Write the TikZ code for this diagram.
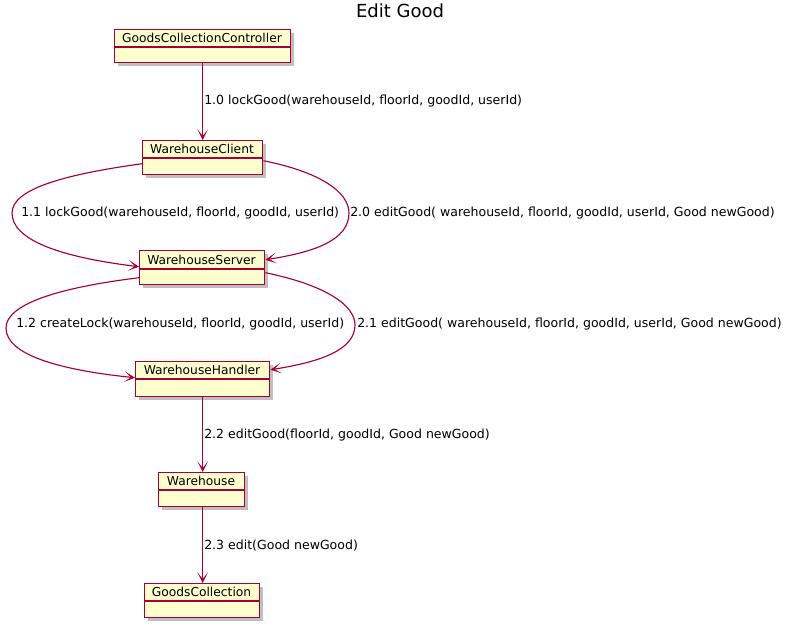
\documentclass[tikz,border=0pt]{standalone}
\usepackage{fontspec}
\setmainfont{DejaVu Sans}
\usetikzlibrary{arrows.meta,shadows}
\definecolor{umlred}{HTML}{A80036}
\definecolor{umlfill}{HTML}{FEFECE}
\tikzset{
  clsshape/.style={draw=umlred, fill=umlfill, line width=1.1pt, inner sep=0pt,
    drop shadow={shadow xshift=2.5pt, shadow yshift=-2.5pt, fill=black, opacity=0.25}},
  clsline/.style={draw=umlred, line width=1.1pt},
  clstext/.style={font=\fontsize{9.2pt}{11pt}\selectfont, inner sep=0pt},
  conn/.style={draw=umlred, line width=0.85pt, -{Stealth[length=8pt,width=8pt,inset=5pt]}},
  lbl/.style={font=\fontsize{9.4pt}{11pt}\selectfont, anchor=west, inner sep=0pt},
}
% name, left, top, right, bottom, divider y, text
\newcommand\clsbox[7]{%
  \node[clsshape, minimum width={(#4-#2)*0.75pt}, minimum height={(#5-#3)*0.75pt}, anchor=north west] (#1) at (#2,#3) {};
  \draw[clsline] (#2,#6) -- (#4,#6);
  \node[clstext] (#1-t) at ({(#2+#4)/2},{(#3+#6)/2}) {#7};
}
\begin{document}
\begin{tikzpicture}[x=0.75pt, y=-0.75pt]
\useasboundingbox (0,0) rectangle (793,627);
\node[font=\fontsize{13.5pt}{16pt}\selectfont, inner sep=0pt] (title) at (400,11) {Edit Good};

\clsbox{gcc}{114}{29}{290}{62}{47}{GoodsCollectionController}
\clsbox{wc}{142}{140}{262}{174}{158}{WarehouseClient}
\clsbox{ws}{139}{250}{264}{284}{269}{WarehouseServer}
\clsbox{wh}{135}{361}{269}{396}{379}{WarehouseHandler}
\clsbox{w}{158}{472}{244}{506}{490}{Warehouse}
\clsbox{gc}{144}{583}{259}{617}{601}{GoodsCollection}

% straight connectors
\draw[conn] (gcc.south) -- (gcc.south |- wc.north);
\node[lbl] (l10) at (204,101) {1.0 lockGood(warehouseId, floorId, goodId, userId)};
\draw[conn] (wh.south) -- (wh.south |- w.north);
\node[lbl] (l22) at (204,435) {2.2 editGood(floorId, goodId, Good newGood)};
\draw[conn] (wh.south |- w.south) -- (wh.south |- gc.north);
\node[lbl] (l23) at (204,546) {2.3 edit(Good newGood)};

% curved connectors
\coordinate (wcL) at ([yshift=-0.75*6pt]wc.west);
\coordinate (wcR) at ([yshift=-0.75*3pt]wc.east);
\coordinate (wsLin) at ([yshift=0.75*1pt]ws.west);
\coordinate (wsRin) at ([yshift=0.75*8pt]ws.east);
\coordinate (wsLout) at ([yshift=-0.75*10pt]ws.west);
\coordinate (wsRout) at ([yshift=-0.75*5pt]ws.east);
\coordinate (whLin) at ([yshift=0.75*1.5pt]wh.west);
\coordinate (whRin) at ([yshift=0.75*9.5pt]wh.east);

\draw[conn] (wcL) .. controls (60,175) and (12,190) .. (12,213) .. controls (12,240) and (60,257) .. (wsLin);
\node[lbl] (l11) at (21,213) {1.1 lockGood(warehouseId, floorId, goodId, userId)};
\draw[conn] (wcR) .. controls (320,172) and (349,192) .. (349,213) .. controls (349,240) and (315,252) .. (wsRin);
\node[lbl] (l20) at (350,213) {2.0 editGood( warehouseId, floorId, goodId, userId, Good newGood)};

\draw[conn] (wsLout) .. controls (55,288) and (6,305) .. (6,328) .. controls (6,355) and (60,370) .. (whLin);
\node[lbl] (l12) at (16,324) {1.2 createLock(warehouseId, floorId, goodId, userId)};
\draw[conn] (wsRout) .. controls (325,285) and (355,305) .. (355,325) .. controls (355,350) and (320,362) .. (whRin);
\node[lbl] (l21) at (357,324) {2.1 editGood( warehouseId, floorId, goodId, userId, Good newGood)};
\end{tikzpicture}
\end{document}
